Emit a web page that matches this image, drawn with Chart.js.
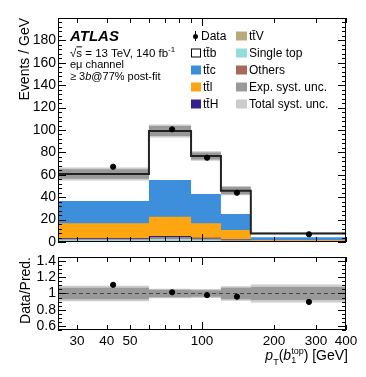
<!DOCTYPE html>
<html>
<head>
<meta charset="utf-8">
<script src="https://cdn.jsdelivr.net/npm/chart.js@4.4.0/dist/chart.umd.min.js"></script>
<style>
body { margin: 0; background: #fff; font-family: 'Liberation Sans', Arial, sans-serif; }
#wrap { position: relative; width: 366px; height: 377px; overflow: hidden; }
canvas { position: absolute; left: 0; }
.t { position: absolute; white-space: nowrap; color: #000; line-height: 1; transform: translateY(-50%); z-index: 2; }
.box { position: absolute; width: 10px; height: 9px; transform: translateY(-50%); z-index: 2; box-sizing: border-box; }
.ss { display: inline-flex; flex-direction: column; vertical-align: middle; font-size: 9px; line-height: 1; }
</style>
</head>
<body>
<div id="wrap">
  <canvas id="mainChart" width="366" height="250" style="top:0"></canvas>
  <canvas id="ratioChart" width="366" height="127" style="top:250px"></canvas>

  <div class="t" style="left:70px;top:35px;font-size:15px;font-weight:bold;font-style:italic;">ATLAS</div>
  <div class="t" style="left:70px;top:53px;font-size:11.5px;">√<span style="text-decoration:overline">s</span> = 13 TeV, 140 fb<sup style="font-size:8px">-1</sup></div>
  <div class="t" style="left:70px;top:64px;font-size:11px;">eμ channel</div>
  <div class="t" style="left:70px;top:76px;font-size:11px;">≥ 3<i>b</i>@77% post-fit</div>

  <div style="position:absolute;left:195px;top:31px;width:1px;height:10px;background:#000;z-index:2"></div>
  <div style="position:absolute;left:193px;top:34px;width:5px;height:5px;border-radius:50%;background:#000;z-index:2"></div>
  <div class="t" style="left:201px;top:36px;font-size:12px;">Data</div>
  <div class="box" style="left:191px;top:53px;background:#fff;border:1px solid #000"></div>
  <div class="t" style="left:203px;top:53px;font-size:12px;">tt̄b</div>
  <div class="box" style="left:191px;top:70px;background:#3d8fdc"></div>
  <div class="t" style="left:203px;top:70px;font-size:12px;">tt̄c</div>
  <div class="box" style="left:191px;top:87px;background:#fea611"></div>
  <div class="t" style="left:203px;top:87px;font-size:12px;">tt̄l</div>
  <div class="box" style="left:191px;top:104px;background:#35208c"></div>
  <div class="t" style="left:203px;top:104px;font-size:12px;">tt̄H</div>

  <div class="box" style="left:236px;top:36px;width:11px;background:#b8ab78"></div>
  <div class="t" style="left:249px;top:36px;font-size:12px;">tt̄V</div>
  <div class="box" style="left:236px;top:53px;width:11px;background:#92dcdc"></div>
  <div class="t" style="left:249px;top:53px;font-size:12px;">Single top</div>
  <div class="box" style="left:236px;top:70px;width:11px;background:#a8695a"></div>
  <div class="t" style="left:249px;top:70px;font-size:12px;">Others</div>
  <div class="box" style="left:236px;top:87px;width:11px;background:#999999"></div>
  <div class="t" style="left:249px;top:87px;font-size:12px;">Exp. syst. unc.</div>
  <div class="box" style="left:236px;top:104px;width:11px;background:#cccccc"></div>
  <div class="t" style="left:249px;top:104px;font-size:12px;">Total syst. unc.</div>

  <div class="t" style="right:18px;top:357px;font-size:14px;"><i>p</i><span class="ss" style="vertical-align:-5px">T</span>(<i>b</i><span class="ss"><span>top</span><span>1</span></span>) [GeV]</div>
</div>

<script>
// binning and yields (Events / GeV), stacks listed bottom -> top
const binEdges = [25, 60, 90, 120, 160, 400];
const singleTop = [2.2, 3.0, 2.2, 1.4, 0.2];
const others = [0.4, 0.5, 0.4, 0.3, 0.05];
const ttV = [0.4, 0.7, 0.5, 0.5, 0.1];
const ttH = [0.5, 1.2, 0.8, 0.5, 0.1];
const ttl = [13.2, 17.2, 12.8, 8.0, 1.35];
const ttc = [19.9, 32.8, 26.2, 14.3, 2.5];
const ttb = [24.1, 43.7, 33.9, 20.8, 3.4];

const dataX = [42.5, 75, 105, 140, 280];
const dataY = [67.2, 100.6, 75.3, 44.0, 6.9];
const dataErr = [1.4, 1.8, 1.6, 1.05, 0.17];

// relative uncertainties
const expUnc = [0.07, 0.045, 0.04, 0.07, 0.08];
const totUnc = [0.095, 0.058, 0.055, 0.09, 0.11];

const xTicks = [30, 40, 50, 60, 70, 80, 90, 100, 200, 300, 400];
const xTickLabels = [30, 40, 50, 100, 200, 300, 400];
const yTicksMain = [0, 20, 40, 60, 80, 100, 120, 140, 160, 180];
const yTicksRatio = [0.6, 0.8, 1, 1.2, 1.4];

const FONT = "'Liberation Sans', Arial, sans-serif";
Chart.defaults.font.family = FONT;
Chart.defaults.color = '#000';

const stackNames = ['Single top', 'Others', 'ttV', 'ttH', 'ttl', 'ttc', 'ttb'];
const stackVals = [singleTop, others, ttV, ttH, ttl, ttc, ttb];
const stackColors = ['#92dcdc', '#a8695a', '#b8ab78', '#35208c', '#fea611', '#3d8fdc', '#ffffff'];

function stepPoints(vals) {
    return binEdges.map((e, i) => ({x: e, y: vals[Math.min(i, vals.length - 1)]}));
}

const cumul = [];
stackVals.forEach((vals, k) => {
    cumul.push(vals.map((v, i) => v + (k > 0 ? cumul[k - 1][i] : 0)));
});
const totalPred = cumul[cumul.length - 1];
const ratioY = dataY.map((v, i) => v / totalPred[i]);
const ratioErr = dataErr.map((v, i) => v / totalPred[i]);

const axisTicks = {
    id: 'axisTicks',
    afterDraw(chart, args, opts) {
        const {ctx, chartArea: a, scales: {x, y}} = chart;
        ctx.save();
        ctx.strokeStyle = '#000';
        ctx.lineWidth = 1;
        ctx.beginPath();
        xTicks.forEach(v => {
            const px = Math.round(x.getPixelForValue(v)) + 0.5;
            const len = v === 100 ? 8 : 5;
            ctx.moveTo(px, a.bottom); ctx.lineTo(px, a.bottom - len);
            ctx.moveTo(px, a.top); ctx.lineTo(px, a.top + len);
        });
        for (let v = opts.yMinorStart; v <= y.max + 1e-9; v += opts.yMinor) {
            const py = Math.round(y.getPixelForValue(v)) + 0.5;
            const isMajor = Math.abs(v / opts.yMajor - Math.round(v / opts.yMajor)) < 1e-6;
            const len = isMajor ? 8 : 4;
            ctx.moveTo(a.left, py); ctx.lineTo(a.left + len, py);
            ctx.moveTo(a.right, py); ctx.lineTo(a.right - len, py);
        }
        ctx.stroke();
        ctx.strokeRect(a.left + 0.5, a.top + 0.5, a.width - 1, a.height - 1);
        ctx.restore();
    }
};

const errorBars = {
    id: 'errorBars',
    afterDatasetsDraw(chart, args, opts) {
        const {ctx, scales: {x, y}} = chart;
        ctx.save();
        ctx.strokeStyle = '#000';
        ctx.lineWidth = 1.2;
        ctx.beginPath();
        opts.x.forEach((xv, i) => {
            const px = x.getPixelForValue(xv);
            ctx.moveTo(px, y.getPixelForValue(opts.y[i] - opts.err[i]));
            ctx.lineTo(px, y.getPixelForValue(opts.y[i] + opts.err[i]));
        });
        ctx.stroke();
        ctx.restore();
    }
};

function fixBox(w, h) {
    return s => {
        if (w !== null) s.width = w;
        if (h !== null) s.height = h;
        s.paddingTop = 0; s.paddingBottom = 0; s.paddingLeft = 0; s.paddingRight = 0;
    };
}

function xScale(showLabels, height) {
    return {
        type: 'logarithmic',
        min: 25,
        max: 400,
        afterBuildTicks: s => { s.ticks = xTicks.map(v => ({value: v})); },
        afterFit: fixBox(null, height),
        grid: {display: false, drawTicks: false},
        border: {display: false},
        ticks: {
            display: showLabels,
            autoSkip: false,
            maxRotation: 0,
            padding: 3,
            font: {size: 13.5},
            callback: v => xTickLabels.includes(v) ? String(v) : ''
        }
    };
}

function yScale(min, max, tickList, title, titlePad) {
    return {
        min: min,
        max: max,
        afterBuildTicks: s => { s.ticks = tickList.map(v => ({value: v})); },
        afterFit: fixBox(58, null),
        grid: {display: false, drawTicks: false},
        border: {display: false},
        ticks: {autoSkip: false, padding: 2, font: {size: 14}, callback: v => String(v)},
        title: {display: true, text: title, align: 'end', font: {size: 14}, padding: {top: titlePad, bottom: 0}}
    };
}

function bandSets(center, unc, color, order) {
    const up = center.map((v, i) => v * (1 + unc[i]));
    const dn = center.map((v, i) => v * (1 - unc[i]));
    return [
        {data: stepPoints(up), stepped: 'before', fill: '+1', backgroundColor: color, borderWidth: 0, borderColor: 'transparent', pointRadius: 0, order: order},
        {data: stepPoints(dn), stepped: 'before', fill: false, borderWidth: 0, borderColor: 'transparent', pointRadius: 0, order: order + 1}
    ];
}

// main panel
const mainSets = [];
for (let k = cumul.length - 1; k >= 0; k--) {
    mainSets.push({
        label: stackNames[k],
        data: stepPoints(cumul[k]),
        stepped: 'before',
        fill: 'origin',
        backgroundColor: stackColors[k],
        borderColor: 'transparent',
        borderWidth: 0,
        pointRadius: 0,
        order: 10 + k
    });
}
mainSets.push(...bandSets(totalPred, totUnc, '#cccccc', 7));
mainSets.push(...bandSets(totalPred, expUnc, '#999999', 5));
mainSets.push({
    label: 'Total',
    data: stepPoints(totalPred),
    stepped: 'before',
    fill: false,
    borderColor: '#222',
    borderWidth: 2,
    pointRadius: 0,
    order: 2
});
mainSets.push({
    type: 'scatter',
    label: 'Data',
    data: dataX.map((x, i) => ({x: x, y: dataY[i]})),
    pointRadius: 2.6,
    pointBackgroundColor: '#000',
    pointBorderColor: '#000',
    order: 0
});

new Chart(document.getElementById('mainChart'), {
    type: 'line',
    data: {datasets: mainSets},
    options: {
        responsive: false,
        animation: false,
        events: [],
        layout: {padding: {left: 0, right: 20, top: 18, bottom: 0}},
        scales: {
            x: xScale(false, 8),
            y: yScale(0, 200, yTicksMain, 'Events / GeV', 17)
        },
        plugins: {
            legend: {display: false},
            tooltip: {enabled: false},
            axisTicks: {yMajor: 20, yMinor: 4, yMinorStart: 0},
            errorBars: {x: dataX, y: dataY, err: dataErr}
        }
    },
    plugins: [axisTicks, errorBars]
});

// ratio panel
const ones = totalPred.map(() => 1);
const ratioSets = [];
ratioSets.push(...bandSets(ones, totUnc, '#cccccc', 7));
ratioSets.push(...bandSets(ones, expUnc, '#999999', 5));
ratioSets.push({
    data: [{x: 25, y: 1}, {x: 400, y: 1}],
    fill: false,
    borderColor: '#444',
    borderWidth: 1,
    borderDash: [4, 3],
    pointRadius: 0,
    order: 3
});
ratioSets.push({
    type: 'scatter',
    data: dataX.map((x, i) => ({x: x, y: ratioY[i]})),
    pointRadius: 2.6,
    pointBackgroundColor: '#000',
    pointBorderColor: '#000',
    order: 0
});

new Chart(document.getElementById('ratioChart'), {
    type: 'line',
    data: {datasets: ratioSets},
    options: {
        responsive: false,
        animation: false,
        events: [],
        layout: {padding: {left: 0, right: 20, top: 7, bottom: 0}},
        scales: {
            x: xScale(true, 47),
            y: yScale(0.55, 1.45, yTicksRatio, 'Data/Pred.', 18)
        },
        plugins: {
            legend: {display: false},
            tooltip: {enabled: false},
            axisTicks: {yMajor: 0.2, yMinor: 0.05, yMinorStart: 0.55},
            errorBars: {x: dataX, y: ratioY, err: ratioErr}
        }
    },
    plugins: [axisTicks, errorBars]
});
</script>
</body>
</html>
